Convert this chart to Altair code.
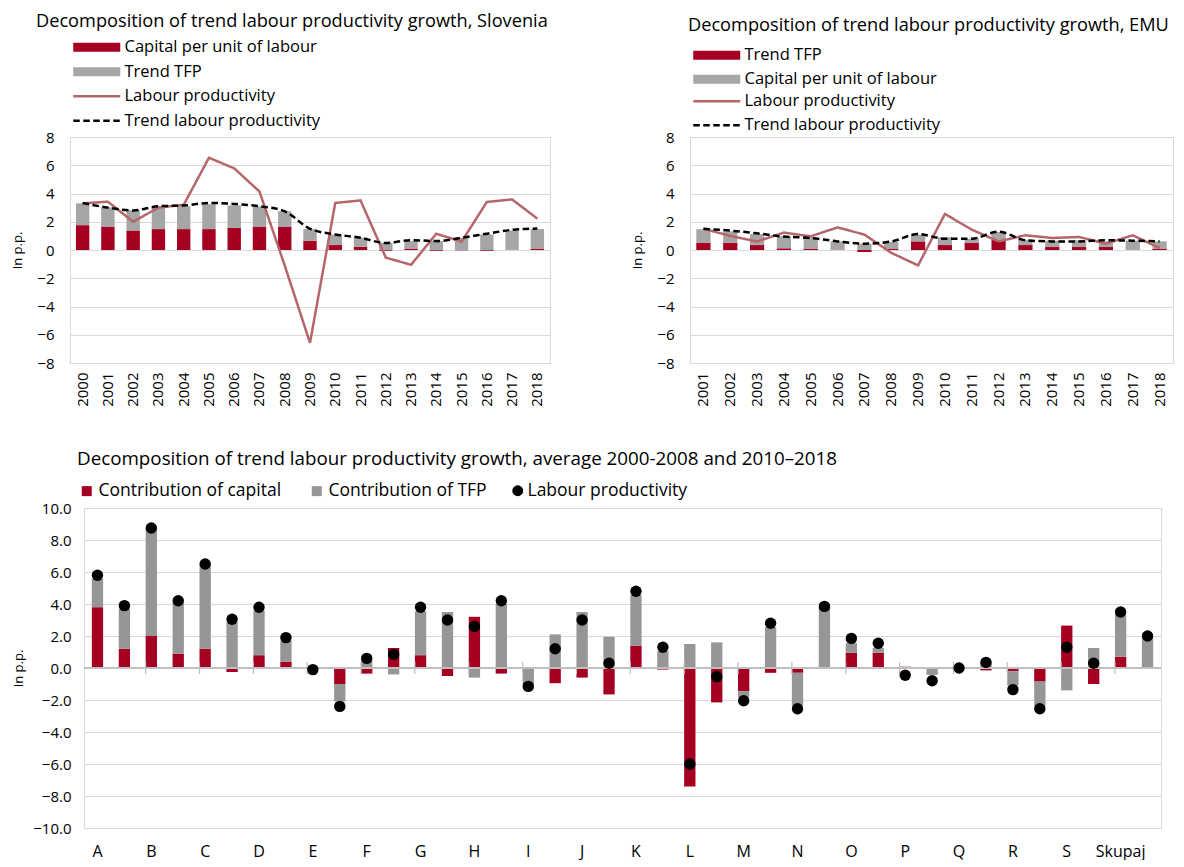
import altair as alt
import pandas as pd

FONT = "Open Sans"
RED = "#A50021"
GRAY = "#A6A6A6"
GRAY_B = "#969696"
LP_COLOR = "#B5666B"
GRID = "#D9D9D9"

# ---------------- Slovenia ----------------
si_years = [str(y) for y in range(2000, 2019)]
si_capital = [1.76, 1.66, 1.38, 1.48, 1.48, 1.48, 1.57, 1.66, 1.66, 0.66, 0.35, 0.23, -0.05, 0.10, -0.05, -0.02, -0.05, 0.01, 0.10]
si_tfp = [1.54, 1.36, 1.43, 1.59, 1.62, 1.77, 1.59, 1.43, 1.08, 0.84, 0.75, 0.64, 0.50, 0.53, 0.63, 0.87, 1.10, 1.37, 1.38]
si_lp = [3.30, 3.42, 2.00, 3.00, 3.20, 6.53, 5.78, 4.14, -1.10, -6.57, 3.33, 3.51, -0.54, -1.05, 1.15, 0.59, 3.40, 3.58, 2.22]
si_trend = [3.33, 3.00, 2.80, 3.10, 3.15, 3.33, 3.26, 3.10, 2.74, 1.50, 1.10, 0.87, 0.49, 0.70, 0.63, 0.87, 1.15, 1.43, 1.52]

# ---------------- EMU ----------------
emu_years = [str(y) for y in range(2001, 2019)]
emu_tfp = [0.52, 0.52, 0.35, 0.12, 0.10, 0.03, -0.14, 0.10, 0.61, 0.35, 0.52, 0.73, 0.35, 0.21, 0.21, 0.21, 0.03, 0.10]
emu_capital = [0.95, 0.80, 0.78, 0.85, 0.82, 0.58, 0.45, 0.47, 0.48, 0.55, 0.28, 0.55, 0.38, 0.45, 0.48, 0.40, 0.63, 0.51]
emu_lp = [1.50, 1.00, 0.60, 1.23, 0.97, 1.60, 1.09, -0.20, -1.09, 2.55, 1.44, 0.61, 1.04, 0.85, 0.92, 0.45, 1.04, 0.14]
emu_trend = [1.50, 1.37, 1.18, 0.95, 0.85, 0.61, 0.45, 0.60, 1.13, 0.80, 0.80, 1.30, 0.69, 0.61, 0.61, 0.69, 0.66, 0.61]

# ---------------- Sectors (2000-2008, 2010-2018) ----------------
sectors = ["A", "B", "C", "D", "E", "F", "G", "H", "I", "J", "K", "L", "M", "N", "O", "P", "Q", "R", "S", "Skupaj"]
cap_p1 = [3.8, 2.0, 1.2, 0.8, 0.0, -0.35, 0.8, 3.2, -0.05, -0.6, 1.4, -7.4, -1.45, -0.3, 0.95, 0.08, 0.0, -0.2, 2.65, 0.7]
cap_p2 = [1.2, 0.9, -0.25, 0.4, -1.0, 1.25, -0.5, -0.35, -0.95, -1.65, -0.1, -2.15, -0.3, 0.02, 0.95, -0.03, -0.15, -0.85, -1.0, 0.02]
tfp_p1 = [1.8, 6.7, 5.2, 2.8, 0.0, 0.5, 2.75, -0.6, -1.0, 3.5, 3.2, 1.5, -0.4, -2.05, 0.6, -0.05, 0.0, -0.9, -1.4, 2.65]
tfp_p2 = [2.5, 3.2, 2.9, 1.3, -1.1, -0.4, 3.5, 4.0, 2.1, 1.95, 1.05, 1.6, 2.55, 3.8, 0.3, -0.4, 0.3, -1.55, 1.25, 1.9]
lp_p1 = [5.8, 8.75, 6.5, 3.8, -0.1, 0.6, 3.8, 2.6, -1.15, 3.0, 4.8, -6.0, -2.05, -2.55, 1.85, -0.45, 0.0, -1.35, 1.3, 3.5]
lp_p2 = [3.9, 4.2, 3.05, 1.9, -2.4, 0.85, 3.0, 4.2, 1.2, 0.3, 1.3, -0.55, 2.8, 3.85, 1.55, -0.8, 0.35, -2.55, 0.3, 2.0]

LINE_NAMES = ["Labour productivity", "Trend labour productivity"]
BAR_SYMBOL = "M-1,-0.9H8.4V0.9H-1Z"
LINE_SYMBOL = "M-1,0H8.4"
TOP_TITLE_SIZE = 18.2
BOT_TITLE_SIZE = 18.8
TOP_LEGEND_SIZE = 16.5
BOT_LEGEND_SIZE = 17.5
TICK_SIZE = 15


def top_panel(title, years, names, first_vals, second_vals, lp, trend, width, title_dx,
              bar_ly, line_ly, row_pad, title_offset):
    rows = []
    for i, yr in enumerate(years):
        rows.append({"year": yr, "series": names[0], "value": first_vals[i], "ord": 0})
        rows.append({"year": yr, "series": names[1], "value": second_vals[i], "ord": 1})
    bars_df = pd.DataFrame(rows)
    lp_df = pd.DataFrame({"year": years, "series": LINE_NAMES[0], "value": lp})
    tr_df = pd.DataFrame({"year": years, "series": LINE_NAMES[1], "value": trend})

    x = alt.X("year:O", title=None,
              scale=alt.Scale(domain=years, paddingInner=0.47, paddingOuter=0.235),
              axis=alt.Axis(labelAngle=-90, labelPadding=9, labelFontSize=TICK_SIZE, grid=False))
    y_axis = alt.Axis(values=list(range(-8, 9, 2)), format="d", labelPadding=16,
                      titlePadding=12, labelFontSize=TICK_SIZE, titleFontSize=13,
                      labelOverlap=False)
    y = alt.Y("value:Q", title="In p.p.", stack="zero",
              scale=alt.Scale(domain=[-8, 8], nice=False), axis=y_axis)
    y_line = alt.Y("value:Q", title="In p.p.", scale=alt.Scale(domain=[-8, 8], nice=False),
                   axis=y_axis)

    bar_legend = alt.Legend(title=None, orient="none", legendX=0, legendY=bar_ly,
                            direction="vertical", symbolType=BAR_SYMBOL, symbolSize=100,
                            symbolStrokeWidth=0, labelOffset=38, labelFontSize=TOP_LEGEND_SIZE,
                            labelLimit=400, rowPadding=row_pad)
    line_legend = alt.Legend(title=None, orient="none", legendX=0, legendY=line_ly,
                             direction="vertical", symbolType=LINE_SYMBOL, symbolSize=100,
                             symbolStrokeWidth=2.5, labelOffset=38, labelFontSize=TOP_LEGEND_SIZE,
                             labelLimit=400, rowPadding=row_pad)

    color = alt.Color("series:N", scale=alt.Scale(domain=names, range=[RED, GRAY]), legend=bar_legend)
    stroke_scale = alt.Scale(domain=LINE_NAMES, range=[LP_COLOR, "#000000"])
    dash_scale = alt.Scale(domain=LINE_NAMES, range=[[1, 0], [6.5, 3.5]])

    bars = alt.Chart(bars_df).mark_bar().encode(
        x=x, y=y, color=color, order=alt.Order("ord:Q", sort="ascending"))
    lp_line = alt.Chart(lp_df).mark_line(strokeWidth=2.5).encode(
        x=x, y=y_line,
        stroke=alt.Stroke("series:N", scale=stroke_scale, legend=line_legend),
        strokeDash=alt.StrokeDash("series:N", scale=dash_scale, legend=line_legend))
    tr_line = alt.Chart(tr_df).mark_line(strokeWidth=2.5, interpolate="monotone").encode(
        x=x, y=y_line,
        stroke=alt.Stroke("series:N", scale=stroke_scale, legend=line_legend),
        strokeDash=alt.StrokeDash("series:N", scale=dash_scale, legend=line_legend))

    return alt.layer(bars, lp_line, tr_line).properties(
        width=width, height=226,
        title=alt.TitleParams(title, anchor="start", frame="group", dx=title_dx,
                              fontSize=TOP_TITLE_SIZE, fontWeight="normal", offset=title_offset))


left = top_panel("Decomposition of trend labour productivity growth, Slovenia", si_years,
                 ["Capital per unit of labour", "Trend TFP"], si_capital, si_tfp,
                 si_lp, si_trend, 480, -34, -98, -49, 7.5, 8)
right = top_panel("Decomposition of trend labour productivity growth, EMU", emu_years,
                  ["Trend TFP", "Capital per unit of labour"], emu_tfp, emu_capital,
                  emu_lp, emu_trend, 483, -2, -90, -44, 7, 12)

# ---------------- bottom panel ----------------
cats = []
rows = []
pts = []
for i, s in enumerate(sectors):
    for p, (cv, tv, lv) in enumerate([(cap_p1[i], tfp_p1[i], lp_p1[i]), (cap_p2[i], tfp_p2[i], lp_p2[i])]):
        c = f"{s}|{p + 1}"
        cats.append(c)
        rows.append({"cat": c, "series": "Contribution of capital", "value": cv, "ord": 0})
        rows.append({"cat": c, "series": "Contribution of TFP", "value": tv, "ord": 1})
        pts.append({"cat": c, "series": "Labour productivity", "value": lv})
bot_bars_df = pd.DataFrame(rows)
bot_pts_df = pd.DataFrame(pts)
tick_df = pd.DataFrame({"cat": [f"{s}|1" for s in sectors[1:]]})

bx_scale = alt.Scale(domain=cats, paddingInner=0.58, paddingOuter=0.29)
bx = alt.X("cat:N", title=None, sort=cats, scale=bx_scale,
           axis=alt.Axis(labelAngle=0, labelPadding=15, labelFontSize=16, grid=False,
                         labelExpr="indexof(datum.value, '|1') > 0 ? split(datum.value, '|')[0] : ''"))
by_axis = alt.Axis(values=list(range(-10, 11, 2)), format=".1f", labelPadding=13,
                   titlePadding=7, labelFontSize=TICK_SIZE, titleFontSize=13,
                   labelOverlap=False, tickCount=11)
by_scale = alt.Scale(domain=[-10, 10], nice=False)

bot_bar_legend = alt.Legend(title=None, orient="none", legendX=-6, legendY=-26,
                            direction="horizontal", symbolType="square", symbolSize=100,
                            symbolStrokeWidth=0, labelOffset=3, labelFontSize=BOT_LEGEND_SIZE,
                            labelLimit=400, columnPadding=26)
bot_pt_legend = alt.Legend(title=None, orient="none", legendX=425, legendY=-26,
                           symbolType="circle", symbolSize=120, symbolFillColor="black",
                           symbolStrokeColor="black", symbolStrokeWidth=0, labelOffset=1,
                           labelFontSize=BOT_LEGEND_SIZE, labelLimit=400)

bot_bars = alt.Chart(bot_bars_df).mark_bar().encode(
    x=bx,
    y=alt.Y("value:Q", title="In p.p.", stack="zero", scale=by_scale, axis=by_axis),
    color=alt.Color("series:N", scale=alt.Scale(domain=["Contribution of capital", "Contribution of TFP"],
                                                range=[RED, GRAY_B]), legend=bot_bar_legend),
    order=alt.Order("ord:Q", sort="ascending"))
zero_rule = alt.Chart(tick_df).mark_rule(color="#BFBFBF", strokeWidth=1.5).encode(
    y=alt.YDatum(0, title="In p.p.", scale=by_scale, axis=by_axis))
tick_rules = alt.Chart(tick_df).mark_rule(color="#BFBFBF", strokeWidth=1.2).encode(
    x=alt.X("cat:N", title=None, sort=cats, scale=bx_scale, bandPosition=0),
    y=alt.YDatum(0.375, title="In p.p.", scale=by_scale, axis=by_axis),
    y2=alt.Y2Datum(-0.375))
bot_pts = alt.Chart(bot_pts_df).mark_point(filled=True, size=130, color="black", opacity=1).encode(
    x=bx,
    y=alt.Y("value:Q", title="In p.p.", scale=by_scale, axis=by_axis),
    shape=alt.Shape("series:N", scale=alt.Scale(domain=["Labour productivity"], range=["circle"]),
                    legend=bot_pt_legend))

bottom = alt.layer(bot_bars, zero_rule, tick_rules, bot_pts).properties(
    width=1077, height=320,
    title=alt.TitleParams("Decomposition of trend labour productivity growth, average 2000-2008 and 2010–2018",
                          anchor="start", frame="group", dx=-7, fontSize=BOT_TITLE_SIZE,
                          fontWeight="normal", offset=13))

spacer = alt.Chart(pd.DataFrame({"v": [0]})).mark_point(opacity=0).encode(
    x=alt.value(0), y=alt.value(0)
).properties(width=1, height=1, view=alt.ViewBackground(strokeOpacity=0))

top = alt.hconcat(left, right, spacing=140, bounds="flush").resolve_scale(
    color="independent", stroke="independent", strokeDash="independent")
bottom_row = alt.hconcat(spacer, bottom, spacing=13, bounds="flush").resolve_scale(
    color="independent", shape="independent")

chart = alt.vconcat(top, bottom_row, spacing=42).resolve_scale(
    color="independent", stroke="independent", strokeDash="independent", shape="independent"
).properties(
    padding={"left": 3, "top": 3, "right": 0, "bottom": 0}
).configure(
    font=FONT
).configure_view(
    stroke=GRID, strokeWidth=1
).configure_axis(
    gridColor=GRID, gridWidth=1, domain=False, ticks=False,
    labelColor="black", titleColor="black", labelFont=FONT, titleFont=FONT,
    titleFontWeight="normal"
).configure_legend(
    labelFont=FONT, labelColor="black"
).configure_title(
    font=FONT, color="black"
)

chart.save("out.html", embed_options={"renderer": "svg", "actions": False})
